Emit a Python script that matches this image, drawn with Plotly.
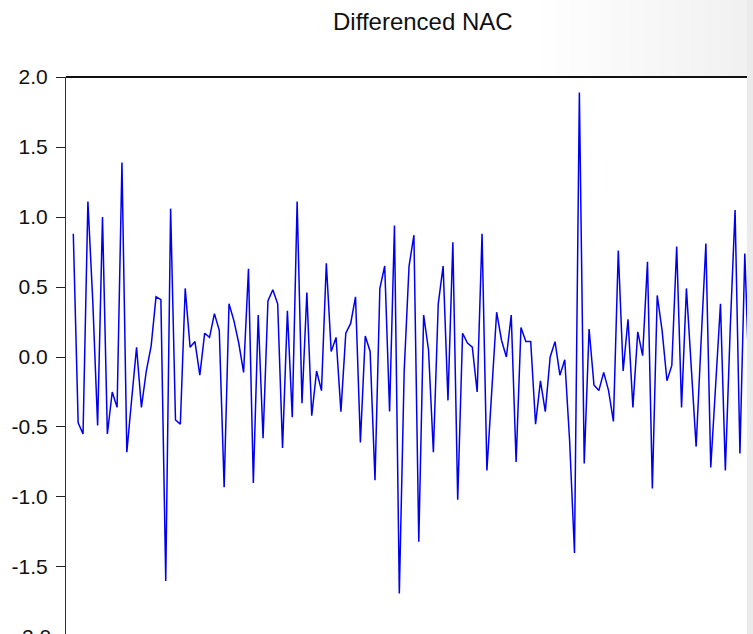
import plotly.graph_objects as go

values = [
    0.88, -0.47, -0.55, 1.11, 0.40, -0.49, 1.00, -0.55, -0.25, -0.36,
    1.39, -0.68, -0.30, 0.07, -0.36, -0.10, 0.08, 0.43, 0.41, -1.60,
    1.06, -0.45, -0.48, 0.49, 0.07, 0.11, -0.13, 0.17, 0.14, 0.31,
    0.19, -0.93, 0.38, 0.26, 0.10, -0.11, 0.63, -0.90, 0.30, -0.58,
    0.40, 0.48, 0.38, -0.65, 0.33, -0.43, 1.11, -0.33, 0.46, -0.42,
    -0.10, -0.24, 0.67, 0.04, 0.14, -0.39, 0.17, 0.24, 0.43, -0.61,
    0.15, 0.04, -0.88, 0.49, 0.65, -0.39, 0.94, -1.69, -0.10, 0.65,
    0.87, -1.32, 0.30, 0.05, -0.68, 0.38, 0.65, -0.31, 0.82, -1.02,
    0.17, 0.10, 0.07, -0.25, 0.88, -0.81, -0.24, 0.32, 0.12, 0.00,
    0.30, -0.75, 0.21, 0.11, 0.11, -0.48, -0.17, -0.39, 0.00, 0.11,
    -0.13, -0.02, -0.60, -1.40, 1.89, -0.76, 0.20, -0.20, -0.24, -0.11,
    -0.24, -0.46, 0.76, -0.10, 0.27, -0.36, 0.18, 0.01, 0.68, -0.94,
    0.44, 0.19, -0.17, -0.06, 0.79, -0.36, 0.49, -0.10, -0.64, 0.10,
    0.81, -0.79, -0.21, 0.38, -0.81, 0.20, 1.05, -0.69, 0.74, -0.30,
]
obs = list(range(len(values)))

ytick_vals = [-1.5, -1.0, -0.5, 0.0, 0.5, 1.0, 1.5, 2.0]
ytick_text = ["-1.5", "-1.0", "-0.5", "0.0", "0.5", "1.0", "1.5", "2.0"]
title_text = "Differenced NAC"

W, H = 753, 634
ML, MR, MT, MB = 66, 6, 77, 0
PW, PH = W - ML - MR, H - MT - MB
Y_MIN, Y_MAX = -1.979, 2.0005

fig = go.Figure()
fig.add_trace(go.Scatter(
    x=obs, y=values, mode="lines",
    line=dict(color="#0000ee", width=1.5),
    hoverinfo="skip", showlegend=False,
))

shapes = []
# light grey gradient at top-right of the slide background
for x0 in range(540, 750, 15):
    shapes.append(dict(type="rect", xref="paper", yref="paper",
                       x0=(x0 - ML) / PW, x1=(W - ML) / PW,
                       y0=1.0, y1=1 + MT / PH,
                       fillcolor="#d8d8d8", opacity=0.035, line_width=0, layer="below"))
# top frame line
shapes.append(dict(type="line", xref="paper", yref="paper", x0=0, x1=1, y0=1, y1=1,
                   line=dict(color="#111111", width=2)))
# right grey strip (slide background beyond the chart image)
shapes.append(dict(type="rect", xref="paper", yref="paper",
                   x0=1.0, x1=(W - ML) / PW, y0=0, y1=1 + MT / PH,
                   fillcolor="#ebebeb", line_width=0, layer="above"))

# the partly cut-off -2.0 label below the visible area
minus2_paper = (-2.0 - Y_MIN) / (Y_MAX - Y_MIN)

fig.update_layout(
    width=W, height=H,
    margin=dict(l=ML, r=MR, t=MT, b=MB, pad=0),
    paper_bgcolor="white", plot_bgcolor="white",
    shapes=shapes,
    xaxis=dict(range=[-1.5, 138.45], showline=False, showgrid=False,
               zeroline=False, showticklabels=False, ticks=""),
    yaxis=dict(range=[Y_MIN, Y_MAX], tickvals=ytick_vals, ticktext=ytick_text,
               showline=True, linecolor="#333333", linewidth=1,
               ticks="outside", ticklen=9, tickcolor="#222222", tickwidth=1,
               ticklabelstandoff=4, automargin=False,
               showgrid=False, zeroline=False,
               tickfont=dict(family="Liberation Sans, Arial, sans-serif", size=21, color="#111111")),
    annotations=[
        dict(text=title_text, xref="paper", yref="paper",
             x=(422.5 - ML) / PW, y=1 + (MT - 22) / PH,
             xanchor="center", yanchor="middle", showarrow=False,
             font=dict(family="Liberation Sans, Arial, sans-serif",
                       size=24, color="#111111")),
        dict(text="-2.0", xref="paper", yref="paper", x=0, y=minus2_paper,
             xanchor="right", yanchor="middle", xshift=-13, showarrow=False,
             font=dict(family="Liberation Sans, Arial, sans-serif", size=21, color="#111111")),
    ],
)

fig.write_html("out.html", config={"displayModeBar": False},
               post_script="document.body.style.margin='0px';")
